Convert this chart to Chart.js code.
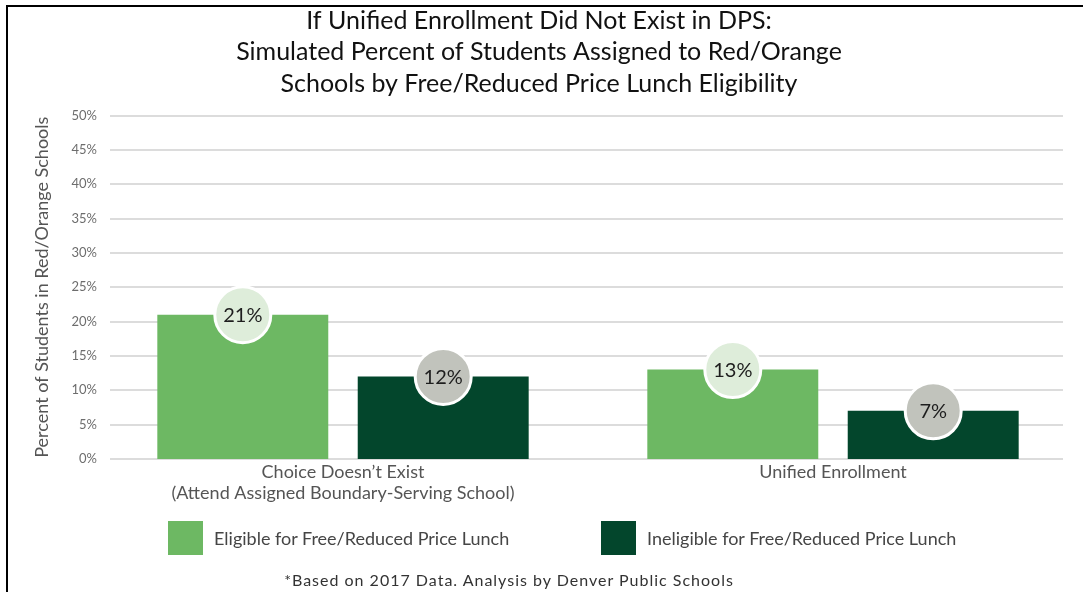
<!DOCTYPE html>
<html><head><meta charset="utf-8">
<script src="https://cdn.jsdelivr.net/npm/chart.js@4.4.1/dist/chart.umd.min.js"></script>
<style>
html,body{margin:0;padding:0;background:#fff;}
#wrap{position:relative;width:1083px;height:592px;overflow:hidden;font-family:Lato,"Open Sans",sans-serif;}
#frame{position:absolute;left:6px;top:5px;right:-10px;bottom:-10px;border-left:2px solid #000;border-top:2px solid #000;pointer-events:none;}
canvas{position:absolute;left:0;top:0;}
#legend{position:absolute;top:521px;left:0;width:1083px;height:34px;}
.li{position:absolute;top:0;height:34px;display:flex;align-items:center;color:#454545;font-size:18px;white-space:nowrap;}
.li span.box{display:inline-block;width:35px;height:34px;margin-right:11px;}
#foot{position:absolute;left:0;width:1018px;top:570px;text-align:center;font-size:16px;letter-spacing:1px;color:#333;}
</style></head><body>
<div id="wrap"><canvas id="c" width="1083" height="592"></canvas><div id="legend"></div><div id="foot"></div><div id="frame"></div></div>
<script>
const categories = [["Choice Doesn’t Exist", "(Attend Assigned Boundary-Serving School)"], "Unified Enrollment"];
const seriesNames = ["Eligible for Free/Reduced Price Lunch", "Ineligible for Free/Reduced Price Lunch"];
const eligibleValues = [21, 13];
const ineligibleValues = [12, 7];
const yTickValues = [0, 5, 10, 15, 20, 25, 30, 35, 40, 45, 50];
const titleLines = ["If Unified Enrollment Did Not Exist in DPS:", "Simulated Percent of Students Assigned to Red/Orange", "Schools by Free/Reduced Price Lunch Eligibility"];
const yAxisTitle = "Percent of Students in Red/Orange Schools";
const footnoteText = "*Based on 2017 Data. Analysis by Denver Public Schools";

const barColors = ["#6db863", "#03462c"];
const bubbleColors = ["#deedda", "#c1c3bc"];
const legendLefts = [168, 601];

Chart.defaults.font.family = "Lato, 'Open Sans', sans-serif";

const gridPlugin = {
  id: 'customGrid',
  beforeDatasetsDraw(chart) {
    const {ctx, chartArea} = chart;
    const ys = chart.scales.y;
    ctx.save();
    ctx.strokeStyle = '#dcdcdc';
    ctx.lineWidth = 2;
    ys.ticks.forEach(t => {
      const y = Math.round(ys.getPixelForValue(t.value));
      ctx.beginPath();
      ctx.moveTo(chartArea.left + 12, y);
      ctx.lineTo(chartArea.right - 15, y);
      ctx.stroke();
    });
    ctx.restore();
  }
};

const bubblePlugin = {
  id: 'bubbles',
  afterDatasetsDraw(chart) {
    const ctx = chart.ctx;
    chart.data.datasets.forEach((ds, di) => {
      const meta = chart.getDatasetMeta(di);
      meta.data.forEach((bar, i) => {
        ctx.save();
        ctx.beginPath();
        ctx.arc(bar.x, bar.y, 28, 0, Math.PI * 2);
        ctx.fillStyle = bubbleColors[di];
        ctx.fill();
        ctx.lineWidth = 3;
        ctx.strokeStyle = '#ffffff';
        ctx.stroke();
        ctx.fillStyle = '#1e1e1e';
        ctx.font = "20px Lato, 'Open Sans', sans-serif";
        ctx.textAlign = 'center';
        ctx.textBaseline = 'middle';
        ctx.fillText(ds.data[i] + '%', bar.x, bar.y + 1);
        ctx.restore();
      });
    });
  }
};

const htmlLegendPlugin = {
  id: 'htmlLegend',
  afterUpdate(chart) {
    const el = document.getElementById('legend');
    el.innerHTML = '';
    const items = chart.options.plugins.legend.labels.generateLabels(chart);
    items.forEach((item, i) => {
      const d = document.createElement('div');
      d.className = 'li';
      d.style.left = legendLefts[i] + 'px';
      const b = document.createElement('span');
      b.className = 'box';
      b.style.background = item.fillStyle;
      d.appendChild(b);
      d.appendChild(document.createTextNode(item.text));
      el.appendChild(d);
    });
  }
};

document.getElementById('foot').textContent = footnoteText;

new Chart(document.getElementById('c'), {
  type: 'bar',
  data: {
    labels: categories,
    datasets: [
      {label: seriesNames[0], data: eligibleValues, backgroundColor: barColors[0]},
      {label: seriesNames[1], data: ineligibleValues, backgroundColor: barColors[1]}
    ]
  },
  options: {
    responsive: false,
    animation: false,
    layout: {padding: {left: 0, right: 5, top: 0, bottom: 85}},
    categoryPercentage: 0.818,
    barPercentage: 0.853,
    plugins: {
      legend: {display: false},
      tooltip: {enabled: false},
      title: {
        display: true,
        text: titleLines,
        color: '#111',
        font: {size: 25, weight: 'normal', lineHeight: 1.26},
        padding: {top: 5, bottom: 16}
      }
    },
    scales: {
      x: {
        grid: {display: false, drawTicks: false},
        border: {display: false},
        ticks: {color: '#555', font: {size: 18, lineHeight: 1.17}, padding: 3, maxRotation: 0, autoSkip: false}
      },
      y: {
        min: 0, max: 50,
        afterFit(scale) { scale.width = 98; },
        afterBuildTicks(scale) { scale.ticks = yTickValues.map(v => ({value: v})); },
        grid: {display: false, drawTicks: false},
        border: {display: false},
        ticks: {color: '#6d6d6d', font: {size: 13}, padding: 1, callback: v => v + '%'},
        title: {display: true, text: yAxisTitle, color: '#555', font: {size: 18}, padding: {top: 31}}
      }
    }
  },
  plugins: [gridPlugin, bubblePlugin, htmlLegendPlugin]
});
</script>
</body></html>
